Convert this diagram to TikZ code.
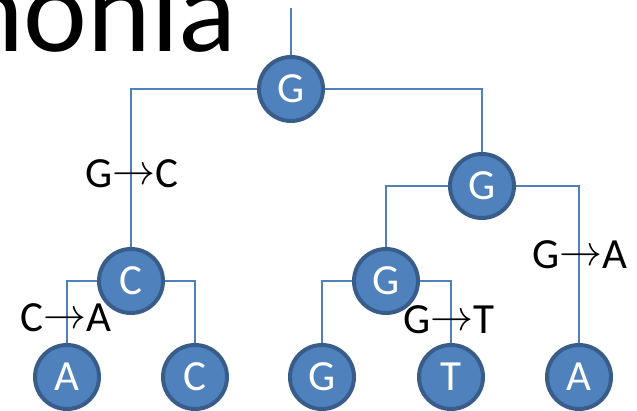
\documentclass[tikz,border=0pt]{standalone}
\usepackage{fix-cm}
\usepackage{fontspec}
\setmainfont{Carlito}
\newcommand{\subst}{\raisebox{3pt}{$\rightarrow$}}
\begin{document}
\begin{tikzpicture}[x=1pt,y=-1pt,
  base/.style={circle,minimum size=64pt,inner sep=0pt,line width=4pt,
    draw=nodeedge,fill=nodefill,text=white,font=\fontsize{43}{43}\selectfont},
  branch/.style={draw=branchcol,line width=2pt},
  change/.style={font=\fontsize{43}{43}\selectfont,inner sep=0pt}]
\definecolor{nodefill}{HTML}{4F81BD}
\definecolor{nodeedge}{HTML}{385D8A}
\definecolor{branchcol}{HTML}{4F81BD}
\useasboundingbox (0,0) rectangle (637,411);
\clip (0,0) rectangle (637,411);

% heading, running off the left and top edges
\node[anchor=base west,inner sep=0pt,font=\fontsize{121}{121}\selectfont] (title) at (-40,52) {nonia};

% tree nodes
\node[base] (root) at (291,89) {G};
\node[base] (c1) at (131,281) {C};
\node[base] (g1) at (482,186) {G};
\node[base] (g2) at (386,281) {G};
\node[base] (la) at (67,377) {A};
\node[base] (lc) at (195,377) {C};
\node[base] (lg) at (322,377) {G};
\node[base] (lt) at (451,377) {T};
\node[base] (ra) at (579,377) {A};
\coordinate (top) at (291,8);

% branches
\draw[branch] (top) -- (root.north);
\draw[branch] (root.west) -| (c1.north);
\draw[branch] (root.east) -| (g1.north);
\draw[branch] (c1.west) -| (la.north);
\draw[branch] (c1.east) -| (lc.north);
\draw[branch] (g1.west) -| (g2.north);
\draw[branch] (g1.east) -| (ra.north);
\draw[branch] (g2.west) -| (lg.north);
\draw[branch] (g2.east) -| (lt.north);

% substitutions along branches
\node[change] (m1) at (132,174) {G\subst C};
\node[change] (m2) at (66,318) {C\subst A};
\node[change] (m3) at (449,320) {G\subst T};
\node[change] (m4) at (580,255) {G\subst A};
\end{tikzpicture}
\end{document}
